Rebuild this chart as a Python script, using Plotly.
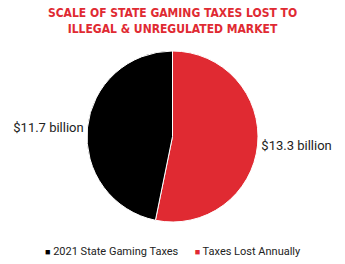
import plotly.graph_objects as go

labels = ["2021 State Gaming Taxes", "Taxes Lost Annually"]
values = [11.7, 13.3]
colors = ["#000000", "#e02a32"]
title_lines = ["SCALE OF STATE GAMING TAXES LOST TO", "ILLEGAL &amp; UNREGULATED MARKET"]

# drawn red first (clockwise from 12 o'clock) so black sits on the left
fig = go.Figure(go.Pie(
    labels=labels[::-1],
    values=values[::-1],
    sort=False,
    direction="clockwise",
    rotation=0,
    marker=dict(colors=colors[::-1], line=dict(color="white", width=1)),
    texttemplate="$%{value} billion",
    textposition="outside",
    textfont=dict(family="Roboto, Arial, sans-serif", size=13, color="#222222"),
    automargin=False,
    showlegend=False,
    hoverinfo="label+value",
))

legend_parts = []
for lab, col in zip(labels, colors):
    legend_parts.append(
        f"<span style='color:{col};font-size:9px'>■</span> {lab}"
    )
legend_text = "      ".join(legend_parts)

fig.add_annotation(
    text=legend_text, x=0.5, xref="paper", xanchor="center",
    y=-0.172, yref="paper", yanchor="middle", showarrow=False,
    font=dict(family="Roboto, Arial, sans-serif", size=11, color="#222222"),
)

fig.update_layout(
    width=345, height=264,
    margin=dict(l=0, r=0, t=51, b=42),
    paper_bgcolor="white",
    plot_bgcolor="white",
    title=dict(
        text="<b>" + "<br>".join(title_lines) + "</b>",
        x=0.5, xanchor="center", y=0.935, yanchor="top",
        font=dict(family="DejaVu Sans Condensed, DejaVu Sans", size=12, color="#e02a32"),
    ),
)

fig.write_html("out.html")
